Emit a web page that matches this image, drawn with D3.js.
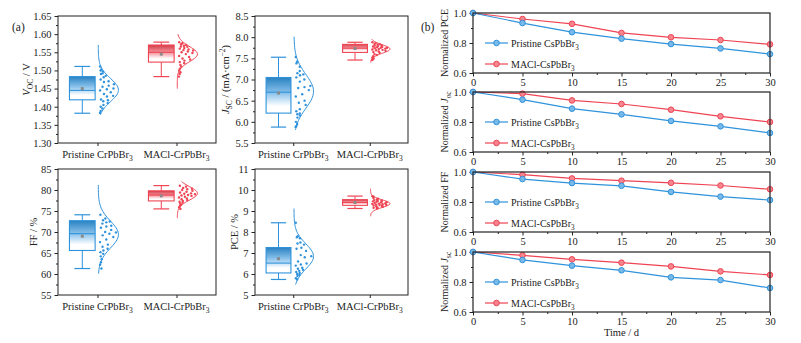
<!DOCTYPE html>
<html lang="en">
<head>
<meta charset="utf-8">
<title>CsPbBr3 device statistics</title>
<script src="https://cdn.jsdelivr.net/npm/d3@7"></script>
<style>
  body { margin: 0; background: #fff; }
  text { font-family: "Liberation Serif", "DejaVu Serif", serif; fill: #222; }
</style>
</head>
<body>
<svg id="chart" width="801" height="343"></svg>
<script>
// ---- data (a): device statistics ----
var groups = ['Pristine CrPbBr', 'MACl-CrPbBr'];

var vocPristine = [1.511, 1.503, 1.500, 1.497, 1.492, 1.490, 1.485, 1.481, 1.475, 1.470, 1.468, 1.462, 1.458, 1.455,
  1.450, 1.448, 1.445, 1.440, 1.435, 1.430, 1.428, 1.420, 1.418, 1.415, 1.410, 1.405, 1.400, 1.395, 1.388, 1.383];
var vocMACl = [1.578, 1.575, 1.572, 1.570, 1.568, 1.566, 1.565, 1.562, 1.560, 1.558, 1.556, 1.555, 1.552, 1.550,
  1.548, 1.545, 1.540, 1.537, 1.533, 1.530, 1.527, 1.523, 1.520, 1.515, 1.510, 1.505, 1.500, 1.495, 1.490, 1.483];
var jscPristine = [7.53, 7.42, 7.38, 7.30, 7.20, 7.15, 7.12, 7.10, 7.05, 7.00, 6.95, 6.85, 6.82, 6.80, 6.75, 6.65,
  6.60, 6.50, 6.45, 6.40, 6.30, 6.25, 6.20, 6.18, 6.15, 6.10, 6.00, 5.95, 5.90, 5.88];
var jscMACl = [7.88, 7.86, 7.84, 7.83, 7.82, 7.80, 7.80, 7.79, 7.78, 7.77, 7.76, 7.75, 7.75, 7.74, 7.73, 7.72,
  7.71, 7.70, 7.69, 7.68, 7.66, 7.65, 7.63, 7.60, 7.58, 7.55, 7.52, 7.50, 7.48, 7.46];
var ffPristine = [74.1, 73.2, 72.8, 72.5, 72.3, 72.0, 71.5, 71.3, 71.0, 70.5, 70.0, 69.9, 69.6, 69.2, 68.8, 68.2,
  67.6, 67.0, 66.5, 66.0, 65.6, 65.2, 64.8, 64.2, 63.5, 62.8, 62.2, 61.3];
var ffMACl = [81.0, 80.8, 80.5, 80.3, 80.2, 80.0, 79.8, 79.6, 79.4, 79.2, 79.1, 79.0, 78.8, 78.7, 78.6, 78.4,
  78.2, 78.0, 77.8, 77.6, 77.4, 77.2, 77.0, 76.8, 76.5, 76.2, 75.9, 75.5];
var pcePristine = [8.44, 7.80, 7.75, 7.70, 7.50, 7.45, 7.40, 7.25, 7.20, 7.10, 6.90, 6.85, 6.80, 6.60, 6.50, 6.45,
  6.40, 6.30, 6.25, 6.20, 6.15, 6.10, 6.05, 6.00, 5.95, 5.90, 5.80, 5.74];
var pceMACl = [9.71, 9.68, 9.62, 9.58, 9.55, 9.52, 9.50, 9.48, 9.46, 9.45, 9.44, 9.42, 9.40, 9.38, 9.36, 9.35,
  9.34, 9.32, 9.30, 9.30, 9.28, 9.26, 9.24, 9.22, 9.20, 9.17, 9.15, 9.12];

// box stats: [min, q1, median, q3, max, mean]
var vocBox = [[1.382, 1.419, 1.445, 1.483, 1.511, 1.450], [1.483, 1.523, 1.550, 1.570, 1.578, 1.545]];
var jscBox = [[5.876, 6.206, 6.70, 7.047, 7.526, 6.68], [7.46, 7.64, 7.74, 7.83, 7.88, 7.73]];
var ffBox = [[61.3, 65.6, 69.6, 72.7, 74.1, 69.0], [75.5, 77.4, 78.8, 79.8, 81.05, 78.6]];
var pceBox = [[5.74, 6.05, 6.52, 7.26, 8.44, 6.73], [9.12, 9.27, 9.40, 9.54, 9.71, 9.40]];

// normal curves: [mean, sd, from, to]
var vocCurve = [[1.446, 0.032, 1.378, 1.570], [1.545, 0.021, 1.450, 1.600]];
var jscCurve = [[6.72, 0.40, 5.81, 8.01], [7.72, 0.10, 7.40, 7.95]];
var ffCurve = [[69.4, 3.2, 60.1, 81.2], [79.2, 1.6, 73.3, 82.0]];
var pceCurve = [[6.84, 0.60, 5.50, 9.12], [9.35, 0.18, 8.75, 10.06]];

var vocTicks = [1.30, 1.35, 1.40, 1.45, 1.50, 1.55, 1.60, 1.65];
var jscTicks = [5.5, 6.0, 6.5, 7.0, 7.5, 8.0, 8.5];
var ffTicks = [55, 60, 65, 70, 75, 80, 85];
var pceTicks = [5, 6, 7, 8, 9, 10, 11];

// ---- data (b): stability ----
var days = [0, 5, 10, 15, 20, 25, 30];
var dayTicks = [0, 5, 10, 15, 20, 25, 30];
var normTicks = [0.6, 0.8, 1.0];
var nPcePristine = [1.0, 0.933, 0.872, 0.829, 0.793, 0.764, 0.726];
var nPceMACl = [1.0, 0.960, 0.928, 0.867, 0.838, 0.820, 0.791];
var nVocPristine = [1.0, 0.949, 0.889, 0.851, 0.807, 0.771, 0.727];
var nVocMACl = [1.0, 0.989, 0.944, 0.920, 0.882, 0.838, 0.800];
var nFfPristine = [1.0, 0.953, 0.926, 0.908, 0.867, 0.836, 0.813];
var nFfMACl = [1.0, 0.982, 0.957, 0.942, 0.928, 0.910, 0.885];
var nJscPristine = [1.0, 0.947, 0.909, 0.878, 0.831, 0.813, 0.760];
var nJscMACl = [1.0, 0.978, 0.951, 0.929, 0.904, 0.871, 0.847];
var legendNames = ['Pristine CsPbBr', 'MACl-CsPbBr'];

var blue = '#2f93dc';
var red = '#ef4453';
var colors = [blue, red];

var svg = d3.select('#chart');

function rich(sel, parts, size) {
    var shift = 0;
    parts.forEach(function (p) {
        var t = sel.append('tspan').text(p[0]);
        var target = p[1] === 'sub' ? size * 0.3 : (p[1] === 'sup' ? -size * 0.4 : 0);
        if (target - shift !== 0) t.attr('dy', target - shift);
        shift = target;
        if (p[1] === 'i') t.style('font-style', 'italic');
        if (p[1] === 'sub' || p[1] === 'sup') t.style('font-size', (size * 0.72) + 'px');
    });
}

function styleAxis(g, size) {
    g.select('.domain').remove();
    g.selectAll('.tick line').attr('stroke', '#222');
    g.selectAll('.tick text').style('font-size', size + 'px').style('font-family', '"Liberation Serif", serif').attr('fill', '#222');
}

var defs = svg.append('defs');
colors.forEach(function (c, i) {
    var gr = defs.append('linearGradient').attr('id', 'boxGrad' + i)
        .attr('x1', 0).attr('y1', 0).attr('x2', 0).attr('y2', 1);
    gr.append('stop').attr('offset', '0%').attr('stop-color', d3.color(c).darker(0.35));
    gr.append('stop').attr('offset', '45%').attr('stop-color', d3.interpolateRgb(c, '#fff')(0.45));
    gr.append('stop').attr('offset', '80%').attr('stop-color', '#fff');
});

// ---- panel (a) ----
var leftPanels = [
    {x0: 58, y0: 16, w: 158, h: 127, ticks: vocTicks, fmt: '.2f', pts: [vocPristine, vocMACl], box: vocBox, curve: vocCurve,
        title: [['V', 'i'], ['OC', 'sub'], [' / V', '']], tx: 30},
    {x0: 255, y0: 16, w: 153, h: 127, ticks: jscTicks, fmt: '.1f', pts: [jscPristine, jscMACl], box: jscBox, curve: jscCurve,
        title: [['J', 'i'], ['SC', 'sub'], [' / (mA·cm', ''], ['−2', 'sup'], [')', '']], tx: 229},
    {x0: 58, y0: 169, w: 158, h: 126, ticks: ffTicks, fmt: 'd', pts: [ffPristine, ffMACl], box: ffBox, curve: ffCurve,
        title: [['FF / %', '']], tx: 37},
    {x0: 255, y0: 169, w: 153, h: 126, ticks: pceTicks, fmt: 'd', pts: [pcePristine, pceMACl], box: pceBox, curve: pceCurve,
        title: [['PCE / %', '']], tx: 238}
];

leftPanels.forEach(function (p) {
    var x = d3.scaleLinear().domain([0.5, 2.5]).range([p.x0, p.x0 + p.w]);
    var y = d3.scaleLinear().domain([p.ticks[0], p.ticks[p.ticks.length - 1]]).range([p.y0 + p.h, p.y0]);
    var unit = x(1) - x(0);
    var g = svg.append('g');

    var minor = [];
    for (var k = 0; k < p.ticks.length - 1; k++) minor.push((p.ticks[k] + p.ticks[k + 1]) / 2);

    g.append('g').attr('transform', 'translate(' + p.x0 + ',0)')
        .call(d3.axisLeft(y).tickValues(p.ticks).tickSize(3.5).tickPadding(3).tickFormat(d3.format(p.fmt)))
        .call(styleAxis, 10.5);
    g.append('g').attr('transform', 'translate(' + p.x0 + ',0)')
        .call(d3.axisLeft(y).tickValues(minor).tickSize(2).tickFormat(''))
        .call(styleAxis, 10);
    g.append('g').attr('transform', 'translate(0,' + (p.y0 + p.h) + ')')
        .call(d3.axisBottom(x).tickValues([1, 2]).tickSize(3).tickFormat(''))
        .call(styleAxis, 10);

    groups.forEach(function (name, i) {
        var t = g.append('text').attr('x', x(i + 1)).attr('y', p.y0 + p.h + 15)
            .attr('text-anchor', 'middle').style('font-size', '10.5px');
        rich(t, [[name, ''], ['3', 'sub']], 10.5);
    });

    var yt = g.append('text').attr('transform', 'translate(' + p.tx + ',' + (p.y0 + p.h / 2) + ') rotate(-90)')
        .attr('text-anchor', 'middle').style('font-size', '10.5px');
    rich(yt, p.title, 10.5);

    groups.forEach(function (name, i) {
        var c = colors[i];
        var b = p.box[i];
        var cx = x(i + 1);
        var bl = cx - 0.355 * unit, br = cx - 0.03 * unit, bm = (bl + br) / 2;
        var cap = 0.1 * unit;

        // whiskers
        g.append('line').attr('x1', bm).attr('x2', bm).attr('y1', y(b[0])).attr('y2', y(b[1])).attr('stroke', c);
        g.append('line').attr('x1', bm).attr('x2', bm).attr('y1', y(b[3])).attr('y2', y(b[4])).attr('stroke', c);
        g.append('line').attr('x1', bm - cap).attr('x2', bm + cap).attr('y1', y(b[0])).attr('y2', y(b[0])).attr('stroke', c).attr('stroke-width', 1.2);
        g.append('line').attr('x1', bm - cap).attr('x2', bm + cap).attr('y1', y(b[4])).attr('y2', y(b[4])).attr('stroke', c).attr('stroke-width', 1.2);
        // box
        g.append('rect').attr('x', bl).attr('y', y(b[3])).attr('width', br - bl).attr('height', y(b[1]) - y(b[3]))
            .attr('fill', 'url(#boxGrad' + i + ')').attr('stroke', c).attr('stroke-width', 1.1);
        g.append('line').attr('x1', bl).attr('x2', br).attr('y1', y(b[2])).attr('y2', y(b[2])).attr('stroke', c).attr('stroke-width', 1.1);
        g.append('rect').attr('x', bm - 1.5).attr('y', y(b[5]) - 1.5).attr('width', 3).attr('height', 3).attr('fill', '#8a8a8a');

        // half-violin normal curve
        var cv = p.curve[i];
        var base = cx + 0.01 * unit, halfW = 0.255 * unit;
        var dens = function (v) { return Math.exp(-0.5 * Math.pow((v - cv[0]) / cv[1], 2)); };
        var vs = d3.range(0, 61).map(function (k) { return cv[2] + (cv[3] - cv[2]) * k / 60; });
        g.append('path').datum(vs)
            .attr('d', d3.line().x(function (v) { return base + halfW * dens(v); }).y(function (v) { return y(v); }))
            .attr('fill', 'none').attr('stroke', c).attr('stroke-width', 1);

        // data points scattered inside the curve
        g.selectAll(null).data(p.pts[i]).enter().append('circle')
            .attr('cx', function (v, j) {
                var f = (j * 0.618 + 0.13) % 1;
                return base + 1.5 + f * (halfW * dens(v) - 2.5 > 2 ? halfW * dens(v) - 2.5 : 2);
            })
            .attr('cy', function (v) { return y(v); })
            .attr('r', 1.2).attr('fill', c);
    });

    g.append('rect').attr('x', p.x0).attr('y', p.y0).attr('width', p.w).attr('height', p.h)
        .attr('fill', 'none').attr('stroke', '#222').attr('stroke-width', 1);
});

svg.append('text').attr('x', 12).attr('y', 31).style('font-size', '11.5px').text('(a)');
svg.append('text').attr('x', 421).attr('y', 31).style('font-size', '11.5px').text('(b)');

// ---- panel (b) ----
var rightPanels = [
    {y0: 13, s: [nPcePristine, nPceMACl], title: [['Normalized PCE', '']]},
    {y0: 92, s: [nVocPristine, nVocMACl], title: [['Normalized ', ''], ['J', 'i'], ['oc', 'sub']]},
    {y0: 172, s: [nFfPristine, nFfMACl], title: [['Normalized FF', '']]},
    {y0: 252, s: [nJscPristine, nJscMACl], title: [['Normalized ', ''], ['J', 'i'], ['sc', 'sub']]}
];
var rx0 = 473, rx1 = 770, rh = 60;
var xr = d3.scaleLinear().domain([0, 30]).range([rx0, rx1]);

rightPanels.forEach(function (p, pi) {
    var y = d3.scaleLinear().domain([0.6, 1.0]).range([p.y0 + rh, p.y0]);
    var g = svg.append('g');

    g.append('g').attr('transform', 'translate(' + rx0 + ',0)')
        .call(d3.axisLeft(y).tickValues(normTicks).tickSize(3.5).tickPadding(3).tickFormat(d3.format('.1f')))
        .call(styleAxis, 10.5);
    g.append('g').attr('transform', 'translate(' + rx0 + ',0)')
        .call(d3.axisLeft(y).tickValues([0.7, 0.9]).tickSize(2).tickFormat(''))
        .call(styleAxis, 10);
    g.append('g').attr('transform', 'translate(0,' + (p.y0 + rh) + ')')
        .call(d3.axisBottom(xr).tickValues(dayTicks).tickSize(3.5).tickPadding(2))
        .call(styleAxis, 10.5);
    g.append('g').attr('transform', 'translate(0,' + (p.y0 + rh) + ')')
        .call(d3.axisBottom(xr).tickValues(dayTicks.slice(0, -1).map(function (d) { return d + 2.5; })).tickSize(2).tickFormat(''))
        .call(styleAxis, 10);

    var yt = g.append('text').attr('transform', 'translate(448,' + (p.y0 + rh / 2) + ') rotate(-90)')
        .attr('text-anchor', 'middle').style('font-size', '10px');
    rich(yt, p.title, 10);

    var line = d3.line().x(function (d, k) { return xr(days[k]); }).y(function (d) { return y(d); });
    [1, 0].forEach(function (i) {
        var c = colors[i];
        g.append('path').datum(p.s[i]).attr('d', line).attr('fill', 'none').attr('stroke', c).attr('stroke-width', 1.2);
        g.selectAll(null).data(p.s[i]).enter().append('circle')
            .attr('cx', function (d, k) { return xr(days[k]); })
            .attr('cy', function (d) { return y(d); })
            .attr('r', 2.8).attr('fill', d3.interpolateRgb(c, '#fff')(0.35)).attr('stroke', c).attr('stroke-width', 1);
    });

    legendNames.forEach(function (name, i) {
        var ly = p.y0 + 30 + i * 21;
        var c = colors[i];
        g.append('line').attr('x1', 485).attr('x2', 508).attr('y1', ly).attr('y2', ly).attr('stroke', c).attr('stroke-width', 1.2);
        g.append('circle').attr('cx', 496.5).attr('cy', ly).attr('r', 2.8)
            .attr('fill', d3.interpolateRgb(c, '#fff')(0.35)).attr('stroke', c);
        var t = g.append('text').attr('x', 511).attr('y', ly + 3.5).style('font-size', '10px');
        rich(t, [[name, ''], ['3', 'sub']], 10);
    });

    g.append('rect').attr('x', rx0).attr('y', p.y0).attr('width', rx1 - rx0).attr('height', rh)
        .attr('fill', 'none').attr('stroke', '#222').attr('stroke-width', 1.2);

    if (pi === rightPanels.length - 1) {
        g.append('text').attr('x', (rx0 + rx1) / 2).attr('y', p.y0 + rh + 24)
            .attr('text-anchor', 'middle').style('font-size', '10.5px').text('Time / d');
    }
});
</script>
</body>
</html>
